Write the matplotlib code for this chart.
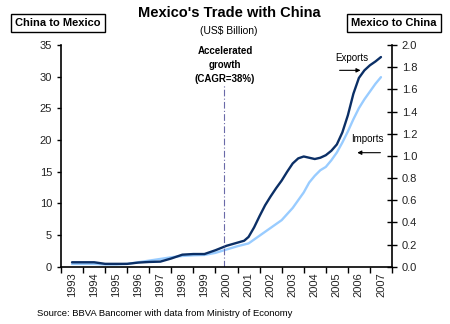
import matplotlib
matplotlib.use("Agg")
import matplotlib.pyplot as plt
import numpy as np
from matplotlib.ticker import FormatStrFormatter

plt.rcParams['font.family'] = ['Liberation Sans', 'DejaVu Sans']

years = ['1993', '1994', '1995', '1996', '1997', '1998', '1999', '2000',
         '2001', '2002', '2003', '2004', '2005', '2006', '2007']

# time in fractional years
exp_t = [1993.0, 1993.5, 1994.0, 1994.5, 1995.0, 1995.5, 1996.0, 1996.5,
         1997.0, 1997.5, 1998.0, 1998.5, 1999.0, 1999.5, 2000.0, 2000.5,
         2000.8, 2001.0, 2001.25, 2001.5, 2001.75, 2002.0, 2002.25, 2002.5,
         2002.75, 2003.0, 2003.25, 2003.5, 2003.75, 2004.0, 2004.25, 2004.5,
         2004.75, 2005.0, 2005.25, 2005.5, 2005.75, 2006.0, 2006.25, 2006.5,
         2006.75, 2007.0]
# China to Mexico (left axis, US$ bn)
exp_v = [0.7, 0.7, 0.7, 0.45, 0.45, 0.45, 0.65, 0.75,
         0.8, 1.3, 1.9, 2.0, 2.0, 2.6, 3.3, 3.8,
         4.1, 4.7, 6.2, 8.0, 9.7, 11.1, 12.4, 13.6,
         15.0, 16.3, 17.1, 17.4, 17.2, 17.0, 17.2, 17.6,
         18.3, 19.3, 21.2, 23.9, 27.3, 29.8, 31.0, 31.8,
         32.4, 33.1]

imp_t = [1993.0, 1993.5, 1994.0, 1994.5, 1995.0, 1995.5, 1996.0, 1996.5,
         1997.0, 1997.5, 1998.0, 1998.5, 1999.0, 1999.5, 2000.0, 2000.5,
         2001.0, 2001.5, 2002.0, 2002.5, 2003.0, 2003.25, 2003.5, 2003.75,
         2004.0, 2004.25, 2004.5, 2004.75, 2005.0, 2005.25, 2005.5, 2005.75,
         2006.0, 2006.25, 2006.5, 2006.75, 2007.0]
# Mexico to China (right axis, US$ bn)
imp_v = [0.025, 0.025, 0.025, 0.02, 0.02, 0.025, 0.04, 0.055,
         0.07, 0.085, 0.097, 0.103, 0.106, 0.125, 0.155, 0.185,
         0.21, 0.28, 0.35, 0.42, 0.53, 0.60, 0.67, 0.76,
         0.82, 0.87, 0.90, 0.96, 1.03, 1.12, 1.22, 1.33,
         1.43, 1.51, 1.58, 1.65, 1.71]

left_ticks = [0, 5, 10, 15, 20, 25, 30, 35]
right_ticks = [0.0, 0.2, 0.4, 0.6, 0.8, 1.0, 1.2, 1.4, 1.6, 1.8, 2.0]

fig = plt.figure(figsize=(4.5, 3.24), dpi=100)
ax = fig.add_axes([61/450, 1-266.7/324, 331/450, (266.7-45)/324])
ax2 = ax.twinx()

x0 = int(years[0])
ax2.plot(np.array(imp_t) - x0, imp_v, color='#99ccff', lw=1.7,
         solid_capstyle='round', solid_joinstyle='round')
ax.plot(np.array(exp_t) - x0, exp_v, color='#0b2f66', lw=1.7,
        solid_capstyle='round', solid_joinstyle='round')
ax.set_zorder(ax2.get_zorder() + 1)
ax.patch.set_visible(False)

ax.set_xlim(-0.5, len(years) - 0.5)
ax.set_ylim(0, 35)
ax2.set_ylim(0, 2.0)
ax.set_yticks(left_ticks)
ax2.set_yticks(right_ticks)
ax2.yaxis.set_major_formatter(FormatStrFormatter('%.1f'))

ax.set_xticks(range(len(years)))
ax.set_xticklabels(years, rotation=90, fontsize=8, color='#222222')
ax.set_xticks(np.arange(-0.5, len(years), 1), minor=True)
ax.tick_params(axis='x', which='major', length=0, pad=4)
ax.tick_params(axis='x', which='minor', length=4, width=1, direction='out')
ax.tick_params(axis='y', labelsize=8, length=3, width=1, direction='out', labelcolor='#222222')
ax2.tick_params(axis='y', labelsize=8, length=7, width=1, direction='inout', labelcolor='#222222')

for a in (ax, ax2):
    a.spines['top'].set_visible(False)
ax.spines['right'].set_visible(False)
ax2.spines['left'].set_visible(False)
ax2.spines['bottom'].set_visible(False)
for s in ('left', 'bottom'):
    ax.spines[s].set_linewidth(1.2)
ax2.spines['right'].set_linewidth(1.2)

# vertical dash-dot line at start of 2000
ax.plot([6.9, 6.9], [0, 28.8], color='#6a6aa8', lw=0.8, ls=(0, (6, 2, 1, 2)))
ax.text(6.93, 31.9, 'Accelerated\ngrowth\n(CAGR=38%)', ha='center', va='center',
        fontsize=7, fontweight='bold', linespacing=1.5)

# Exports / Imports labels
ax.text(12.68, 32.9, 'Exports', ha='center', va='center', fontsize=7)
ax.annotate('', xy=(13.2, 31.0), xytext=(12.0, 31.0),
            arrowprops=dict(arrowstyle='-|>', color='black', lw=0.8, mutation_scale=6))
ax.text(13.4, 20.1, 'Imports', ha='center', va='center', fontsize=7)
ax.annotate('', xy=(12.8, 18.0), xytext=(14.1, 18.0),
            arrowprops=dict(arrowstyle='-|>', color='black', lw=0.8, mutation_scale=6))

# Titles
fig.text(229/450, 1-13/324, "Mexico's Trade with China", ha='center', va='center',
         fontsize=10.5, fontweight='bold')
fig.text(229/450, 1-31/324, '(US$ Billion)', ha='center', va='center', fontsize=7.5)

box = dict(boxstyle='square,pad=0.35', fc='white', ec='black', lw=1)
fig.text(58/450, 1-23/324, 'China to Mexico', ha='center', va='center',
         fontsize=8, fontweight='bold', bbox=box)
fig.text(394/450, 1-23/324, 'Mexico to China', ha='center', va='center',
         fontsize=8, fontweight='bold', bbox=box)

fig.text(37/450, 1-313/324, 'Source: BBVA Bancomer with data from Ministry of Economy',
         ha='left', va='center', fontsize=6.8)

fig.savefig('out.png', dpi=100)
